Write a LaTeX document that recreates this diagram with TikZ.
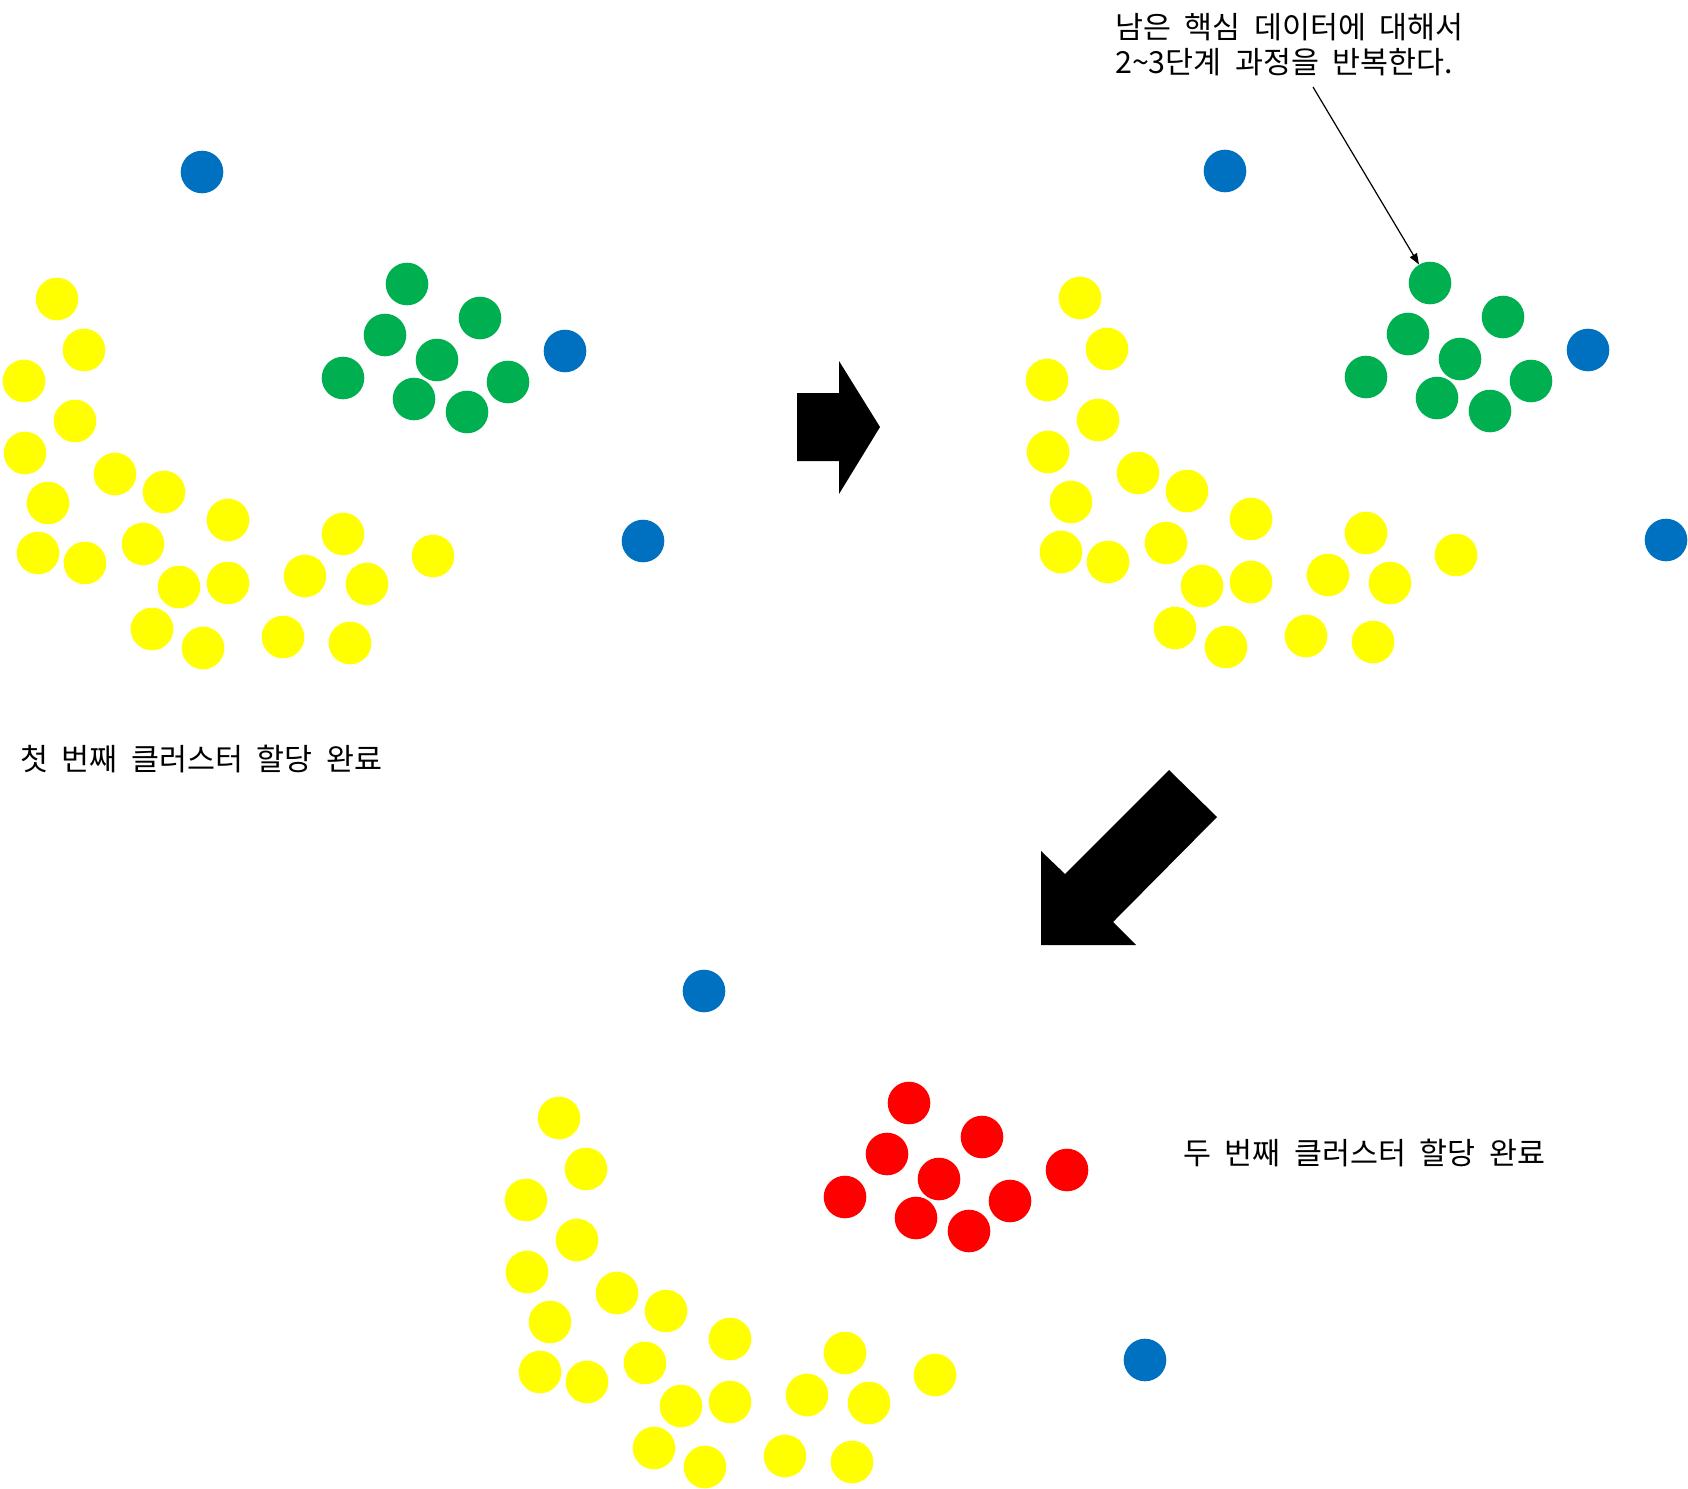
\documentclass[tikz,border=0pt]{standalone}
\usepackage{fontspec}
\newfontfamily\kofont[WordSpace=2]{Noto Sans CJK KR}
\usetikzlibrary{arrows.meta}

\definecolor{dotyellow}{HTML}{FFFF00}
\definecolor{dotgreen}{HTML}{00B050}
\definecolor{dotblue}{HTML}{0070C0}
\definecolor{dotred}{HTML}{FF0000}

% dot positions of one panel (pixel units)
\newcommand{\yellowpts}{57/299, 84/350, 24/381, 75/421, 25/453, 115/474, 164/492, 48/503, 228/520, 343/534, 433/556, 38/553, 85/563, 143/544, 179/587, 228/583, 305/576, 367/584, 152/629, 203/648, 283/637, 350/643}
\newcommand{\greenpts}{407/284, 480/318, 385/335, 437/360, 343/378, 508/382, 414/399, 467/412}

\begin{document}
\begin{tikzpicture}[x=1pt, y=-1pt, every node/.style={circle, inner sep=0pt, minimum size=42.6pt},
    lbl/.style={rectangle, minimum size=0pt, align=left, font=\kofont\fontsize{30.4}{35}\selectfont}]
    \useasboundingbox (0,0) rectangle (1688,1488);

    % Panel 1: first cluster
    \foreach \x/\y [count=\i] in \yellowpts \node[fill=dotyellow] (ay\i) at (\x,\y) {};
    \foreach \x/\y [count=\i] in \greenpts \node[fill=dotgreen] (ag\i) at (\x,\y) {};
    \node[fill=dotblue] (ab1) at (202,172) {};
    \node[fill=dotblue] (ab2) at (565,351) {};
    \node[fill=dotblue] (ab3) at (643,541) {};
    \node[lbl, anchor=west] (first) at (20,759) {첫 번째 클러스터 할당 완료};

    % Panel 2: repeat
    \begin{scope}[shift={(1023,-1)}]
    \foreach \x/\y [count=\i] in \yellowpts \node[fill=dotyellow] (by\i) at (\x,\y) {};
    \foreach \x/\y [count=\i] in \greenpts \node[fill=dotgreen] (bg\i) at (\x,\y) {};
    \node[fill=dotblue] (bb1) at (202,172) {};
    \node[fill=dotblue] (bb2) at (565,351) {};
    \node[fill=dotblue] (bb3) at (643,541) {};
    \end{scope}
    \node[lbl, anchor=west] (note) at (1115,45) {남은 핵심 데이터에 대해서\\2\textasciitilde 3단계 과정을 반복한다.};
    \coordinate (notetail) at (1313,87);
    \draw[line width=1.2pt, -{Triangle[length=11pt, width=8pt]}] (notetail) -- (bg1);

    % Panel 3: second cluster
    \begin{scope}[shift={(502,819)}]
    \foreach \x/\y [count=\i] in \yellowpts \node[fill=dotyellow] (cy\i) at (\x,\y) {};
    \foreach \x/\y [count=\i] in \greenpts \node[fill=dotred] (cr\i) at (\x,\y) {};
    \node[fill=dotblue] (cb1) at (202,172) {};
    \node[fill=dotred] (cr9) at (565,351) {};
    \node[fill=dotblue] (cb3) at (643,541) {};
    \end{scope}
    \node[lbl, anchor=west] (second) at (1183,1153) {두 번째 클러스터 할당 완료};

    % Big arrows
    \fill (797,393) -- (839,393) -- (839,361) -- (880,427) -- (839,494) -- (839,461) -- (797,461) -- cycle;
    \fill (1169,770) -- (1217,817) -- (1113,922) -- (1136,945) -- (1041,945) -- (1041,851) -- (1065,874) -- cycle;
\end{tikzpicture}
\end{document}
